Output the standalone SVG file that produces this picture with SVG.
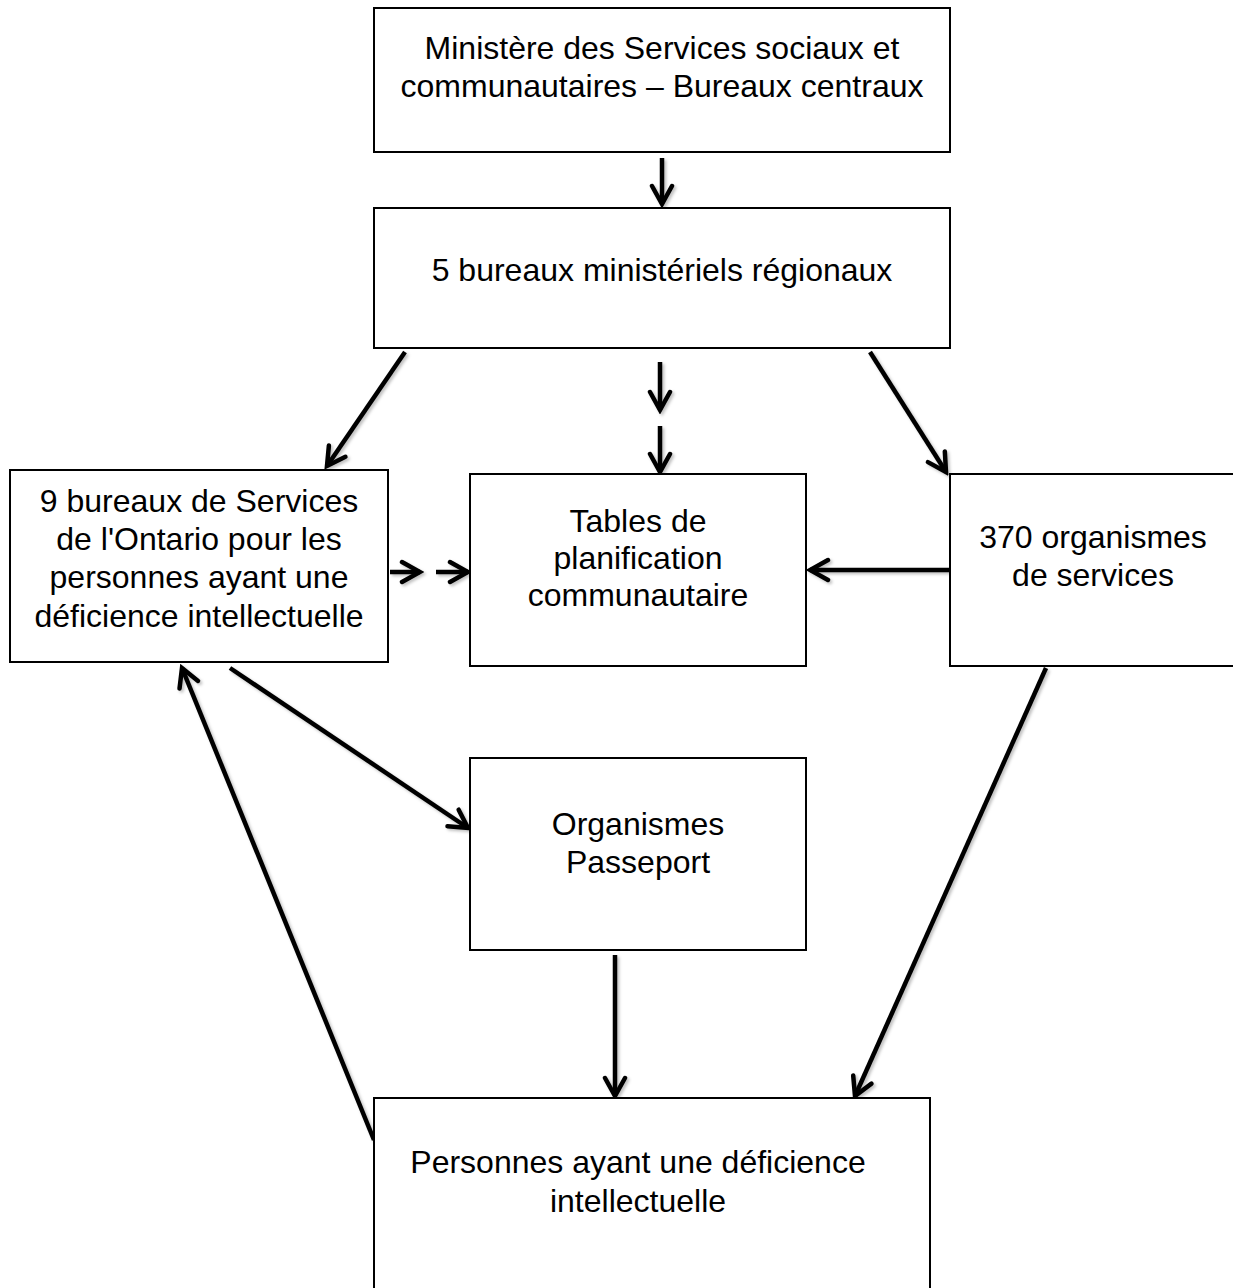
<svg xmlns="http://www.w3.org/2000/svg" width="1233" height="1288" viewBox="0 0 1233 1288">
<style>
.box{fill:#fff;stroke:#000;stroke-width:2}
.t{font-family:"Liberation Sans",Arial,sans-serif;font-size:32px;fill:#000;text-anchor:middle}
.c{stroke:#000;stroke-width:4.5;fill:none;marker-end:url(#ah)}
</style>
<defs>
<filter id="sh" filterUnits="userSpaceOnUse" x="0" y="0" width="1233" height="1288">
<feDropShadow dx="2" dy="2" stdDeviation="1.5" flood-color="#000" flood-opacity="0.25"/>
</filter>
<marker id="ah" markerUnits="userSpaceOnUse" viewBox="0 0 26 26" refX="22" refY="13" markerWidth="26" markerHeight="26" orient="auto">
<path d="M4,3 L22,13 L4,23" fill="none" stroke="#000" stroke-width="4.5" stroke-linecap="round" stroke-linejoin="miter"/>
</marker>
</defs>
<rect width="1233" height="1288" fill="#fff"/>
<g id="connectors" filter="url(#sh)">
<line class="c" x1="662" y1="158" x2="662" y2="204"/>
<line class="c" x1="405" y1="352" x2="327" y2="466"/>
<line class="c" x1="660" y1="362" x2="660" y2="410"/>
<line class="c" x1="660" y1="426" x2="660" y2="472"/>
<line class="c" x1="870" y1="352" x2="946" y2="472"/>
<line class="c" x1="390" y1="572" x2="420" y2="572"/>
<line class="c" x1="436" y1="572" x2="468" y2="572"/>
<line class="c" x1="950" y1="570" x2="810" y2="570"/>
<line class="c" x1="230" y1="668" x2="468" y2="828"/>
<line class="c" x1="374" y1="1140" x2="182" y2="668"/>
<line class="c" x1="615" y1="955" x2="615" y2="1096"/>
<line class="c" x1="1046" y1="668" x2="855" y2="1096"/>
</g>
<g id="n1"><rect class="box" x="374" y="8" width="576" height="144"/>
<text class="t" x="662" y="59">Ministère des Services sociaux et</text>
<text class="t" x="662" y="97">communautaires – Bureaux centraux</text></g>
<g id="n2"><rect class="box" x="374" y="208" width="576" height="140"/>
<text class="t" x="662" y="281">5 bureaux ministériels régionaux</text></g>
<g id="n3"><rect class="box" x="10" y="470" width="378" height="192"/>
<text class="t" x="199" y="512">9 bureaux de Services</text>
<text class="t" x="199" y="550">de l'Ontario pour les</text>
<text class="t" x="199" y="588">personnes ayant une</text>
<text class="t" x="199" y="627">déficience intellectuelle</text></g>
<g id="n4"><rect class="box" x="470" y="474" width="336" height="192"/>
<text class="t" x="638" y="532">Tables de</text>
<text class="t" x="638" y="569">planification</text>
<text class="t" x="638" y="606">communautaire</text></g>
<g id="n5"><rect class="box" x="950" y="474" width="300" height="192"/>
<text class="t" x="1093" y="548">370 organismes</text>
<text class="t" x="1093" y="586">de services</text></g>
<g id="n6"><rect class="box" x="470" y="758" width="336" height="192"/>
<text class="t" x="638" y="835">Organismes</text>
<text class="t" x="638" y="873">Passeport</text></g>
<g id="n7"><rect class="box" x="374" y="1098" width="556" height="210"/>
<text class="t" x="638" y="1173">Personnes ayant une déficience</text>
<text class="t" x="638" y="1212">intellectuelle</text></g>
</svg>
